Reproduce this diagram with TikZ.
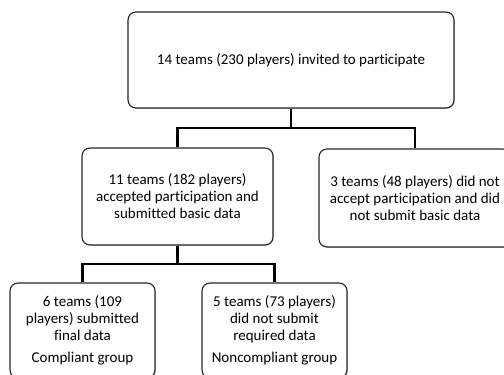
\documentclass[tikz,border=0pt]{standalone}
\usepackage{fontspec}
\setmainfont[Ligatures=CommonOff]{Carlito}
\usetikzlibrary{shadows}
\begin{document}
\begin{tikzpicture}[x=1pt,y=-1pt,
  box/.style={draw=black!85, line width=1.1pt, rounded corners=8pt, fill=white,
    align=center, inner sep=0pt, font=\fontsize{15}{17}\selectfont,
    drop shadow={shadow xshift=0.8pt, shadow yshift=-0.8pt, opacity=0.45}},
  conn/.style={line width=2.6pt, line join=miter}]
\useasboundingbox (0,0) rectangle (504,375);
\clip (0,0) rectangle (504,375);
\node[box, minimum width=326pt, minimum height=96pt] (top) at (291,60)
  {14 teams (230 players) invited to participate};
\node[box, minimum width=191pt, minimum height=97pt] (ml) at (177.5,196.5)
  {11 teams (182 players)\\accepted participation and\\submitted basic data};
\node[box, minimum width=192pt, minimum height=98pt] (mr) at (415,198)
  {3 teams (48 players) did not\\accept participation and did\\not submit basic data};
\node[box, minimum width=145pt, minimum height=95pt] (bl) at (82.5,330.5)
  {6 teams (109\\players) submitted\\final data\\[5pt]Compliant group};
\node[box, minimum width=145pt, minimum height=95pt] (br) at (274.5,330.5)
  {5 teams (73 players)\\did not submit\\required data\\[5pt]Noncompliant group};
\coordinate (j1) at (291,128);
\coordinate (j2) at (177.5,264);
\draw[conn] (top.south) -- (j1);
\draw[conn] (ml.north) |- (mr.north |- j1) -- (mr.north);
\draw[conn] (ml.south) -- (j2);
\draw[conn] (bl.north) |- (br.north |- j2) -- (br.north);
\end{tikzpicture}
\end{document}
